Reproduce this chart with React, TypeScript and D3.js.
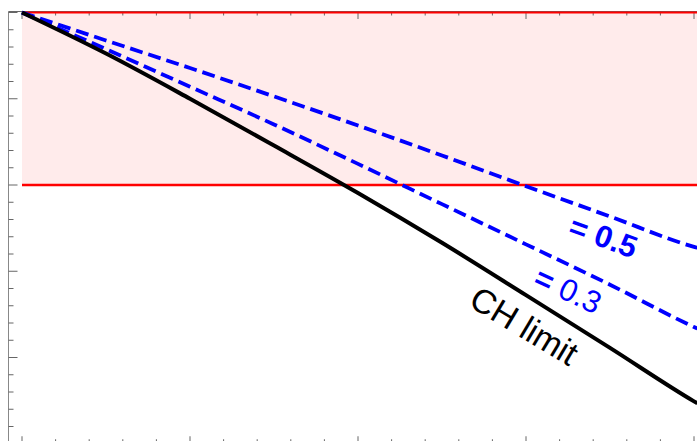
import React from 'react';
import * as d3 from 'd3';

// sampled curves (x in frame units, y below the top reference level)
const xs = [0, 0.5, 1, 1.5, 2, 2.5, 3, 3.5, 4, 4.02];
const chLimit = [0, -0.476, -1.0, -1.542, -2.092, -2.67, -3.277, -3.889, -4.509, -4.532];
const alpha03 = [0, -0.424, -0.861, -1.298, -1.755, -2.222, -2.688, -3.156, -3.647, -3.665];
const alpha05 = [0, -0.324, -0.644, -0.973, -1.31, -1.658, -2.014, -2.365, -2.717, -2.728];

// shaded band between the two red lines
const bandTop = 0;
const bandBottom = -2;

const xMajorTicks = [0, 1, 2, 3, 4];
const yMajorTicks = [0, -1, -2, -3, -4, -5];

const labels = [
    { sign: '=', value: ' 0.5', x: 3.46, y: -2.6, angle: 20, color: '#0000ff', weight: 'bold', size: 31 },
    { sign: '=', value: ' 0.3', x: 3.25, y: -3.22, angle: 25, color: '#0000ff', weight: 'normal', size: 31 },
    { sign: '', value: 'CH limit', x: 2.99, y: -3.63, angle: 31, color: '#000000', weight: 'normal', size: 34 },
];

const W = 697;
const H = 441;

const App = () => {
    const xScale = d3.scaleLinear().domain([0, 4]).range([22, 694]);
    const yScale = d3.scaleLinear().domain([0, -5]).range([12.5, 443.75]);

    const frameLeft = 8.5;
    const frameTop = yScale(0) - 1;
    const frameBottom = yScale(-5);

    const line = d3.line<number>()
        .x((d, i) => xScale(xs[i]))
        .y(d => yScale(d))
        .curve(d3.curveMonotoneX);

    const xMinor = d3.range(0, 4.001, 0.2).filter(v => !xMajorTicks.some(m => Math.abs(m - v) < 1e-6));
    const yMinor = d3.range(0, -5.001, -0.2).filter(v => !yMajorTicks.some(m => Math.abs(m - v) < 1e-6));

    const tickColor = '#666';

    return (
        <svg width={W} height={H} style={{ position: 'fixed', left: 0, top: 0, background: '#fff' }}
            fontFamily="'Liberation Sans', Arial, sans-serif">
            {/* pink band */}
            <rect x={xScale(0)} y={yScale(bandTop)} width={W - xScale(0)}
                height={yScale(bandBottom) - yScale(bandTop)} fill="#ffebeb" />

            {/* frame */}
            <line x1={frameLeft} x2={frameLeft} y1={frameTop} y2={H} stroke="#888" strokeWidth={1} />
            <line x1={frameLeft} x2={W} y1={frameTop} y2={frameTop} stroke="#666" strokeWidth={1} />

            {/* left ticks */}
            {yMajorTicks.map(v => (
                <line key={'ly' + v} x1={frameLeft} x2={frameLeft + 9} y1={yScale(v)} y2={yScale(v)} stroke={tickColor} />
            ))}
            {yMinor.map(v => (
                <line key={'lm' + v} x1={frameLeft} x2={frameLeft + 5} y1={yScale(v)} y2={yScale(v)} stroke={tickColor} />
            ))}

            {/* top ticks */}
            {xMajorTicks.map(v => (
                <line key={'tx' + v} x1={xScale(v)} x2={xScale(v)} y1={frameTop} y2={frameTop + 7.5} stroke={tickColor} />
            ))}
            {xMinor.map(v => (
                <line key={'tm' + v} x1={xScale(v)} x2={xScale(v)} y1={frameTop} y2={frameTop + 4} stroke={tickColor} />
            ))}

            {/* bottom ticks */}
            {xMajorTicks.map(v => (
                <line key={'bx' + v} x1={xScale(v)} x2={xScale(v)} y1={frameBottom} y2={frameBottom - 7.5} stroke={tickColor} />
            ))}
            {xMinor.map(v => (
                <line key={'bm' + v} x1={xScale(v)} x2={xScale(v)} y1={frameBottom} y2={frameBottom - 4.5} stroke={tickColor} />
            ))}

            {/* red limits */}
            <line x1={xScale(0)} x2={W} y1={yScale(bandTop)} y2={yScale(bandTop)} stroke="#ff0000" strokeWidth={2.2} />
            <line x1={xScale(0)} x2={W} y1={yScale(bandBottom)} y2={yScale(bandBottom)} stroke="#ff0000" strokeWidth={2.5} />

            {/* curves */}
            <path d={line(alpha05) || ''} fill="none" stroke="#0000ff" strokeWidth={3.8} strokeDasharray="13,6" />
            <path d={line(alpha03) || ''} fill="none" stroke="#0000ff" strokeWidth={3.8} strokeDasharray="13,6" />
            <path d={line(chLimit) || ''} fill="none" stroke="#000" strokeWidth={4} />

            {/* labels */}
            {labels.map(l => (
                <text key={l.value}
                    transform={`translate(${xScale(l.x)},${yScale(l.y)}) rotate(${l.angle})`}
                    textAnchor="middle" dominantBaseline="central"
                    fill={l.color} fontWeight={l.weight} fontSize={l.size}>
                    {l.sign && <tspan fontWeight="bold">{l.sign}</tspan>}
                    {l.value}
                </text>
            ))}
        </svg>
    );
};

export default App;
